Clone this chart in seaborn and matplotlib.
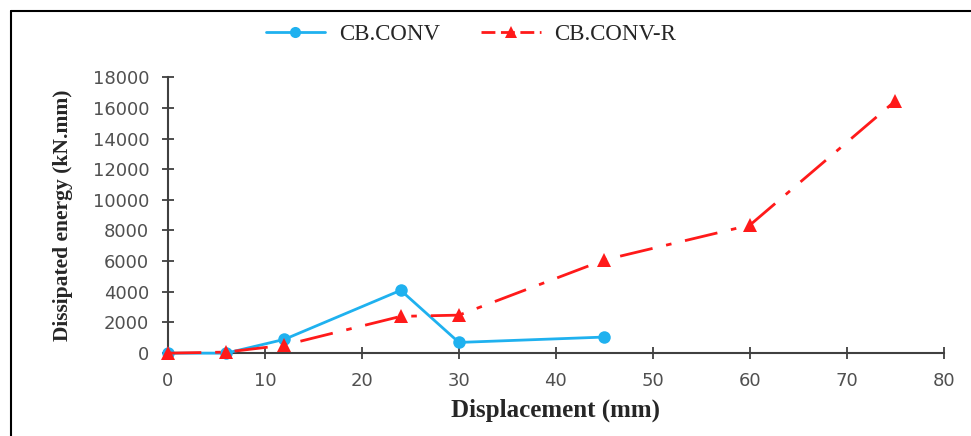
import matplotlib
matplotlib.use("Agg")
import matplotlib.pyplot as plt
from matplotlib.lines import Line2D
import pandas as pd
import seaborn as sns

# ── Data ──────────────────────────────────────────────────────────────────────
conv_disp = [0, 6, 12, 24, 30, 45]
conv_energy = [0, 0, 900, 4100, 700, 1050]

convr_disp = [0, 6, 12, 24, 30, 45, 60, 75]
convr_energy = [0, 70, 520, 2400, 2480, 6080, 8350, 16450]

series_names = ["CB.CONV", "CB.CONV-R"]
x_ticks = [0, 10, 20, 30, 40, 50, 60, 70, 80]
y_ticks = [0, 2000, 4000, 6000, 8000, 10000, 12000, 14000, 16000, 18000]

BLUE = "#1fb1ef"
RED = "#ff1a1a"

df = pd.concat([
    pd.DataFrame({"disp": conv_disp, "energy": conv_energy, "series": series_names[0]}),
    pd.DataFrame({"disp": convr_disp, "energy": convr_energy, "series": series_names[1]}),
])

sns.set_style("white")
plt.rcParams["font.family"] = ["Liberation Serif", "DejaVu Serif"]

fig = plt.figure(figsize=(9.71, 4.36), dpi=100)
ax = fig.add_axes([0.173, 0.19, 0.799, 0.633])

sns.lineplot(data=df[df.series == series_names[0]], x="disp", y="energy",
             color=BLUE, lw=2, marker="o", markersize=9, markeredgewidth=0,
             ax=ax, clip_on=False, zorder=3)
sns.lineplot(data=df[df.series == series_names[1]], x="disp", y="energy",
             color=RED, lw=2, marker="^", markersize=10, markeredgewidth=0,
             dashes=False, ax=ax, clip_on=False, zorder=4)
ax.lines[-1].set_dashes([12, 5, 2, 5])

ax.set_xlim(0, 80)
ax.set_ylim(0, 18000)
ax.set_xticks(x_ticks)
ax.set_yticks(y_ticks)

for side in ["top", "right"]:
    ax.spines[side].set_visible(False)
for side in ["left", "bottom"]:
    ax.spines[side].set_color("#404040")
    ax.spines[side].set_linewidth(1.5)

ax.tick_params(bottom=True, left=True, direction="inout", length=9, width=1.3,
               color="#404040", labelcolor="#505050", labelsize=13, pad=9)
for lab in ax.get_xticklabels() + ax.get_yticklabels():
    lab.set_family(["DejaVu Sans"])

ax.set_xlabel("Displacement (mm)", fontsize=18, fontweight="bold", labelpad=6)
ax.set_ylabel("Dissipated energy (kN.mm)", fontsize=15.5, fontweight="bold", labelpad=14)

handles = [
    Line2D([], [], color=BLUE, lw=2, marker="o", markersize=8, markeredgewidth=0),
    Line2D([], [], color=RED, lw=2, marker="^", markersize=8, markeredgewidth=0,
           dashes=[5, 2]),
]
fig.legend(handles, series_names, loc="center", bbox_to_anchor=(0.485, 0.92),
           ncol=2, frameon=False, fontsize=16.5, handlelength=2.6,
           handletextpad=0.6, columnspacing=1.8)

# frame lines of the original picture (left and top edges)
fig.add_artist(Line2D([0.011, 0.011], [0.0, 0.975], color="black", lw=1.5,
                      transform=fig.transFigure))
fig.add_artist(Line2D([0.011, 1.0], [0.975, 0.975], color="black", lw=1.5,
                      transform=fig.transFigure))

fig.savefig("out.png", dpi=100)
